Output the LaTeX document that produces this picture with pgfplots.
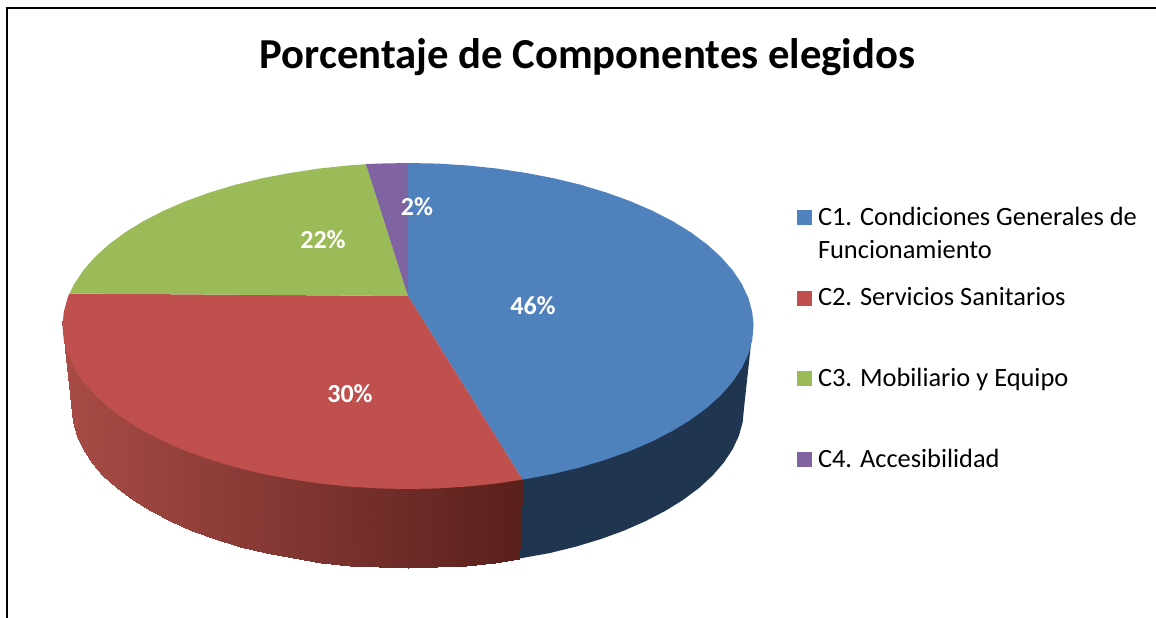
\documentclass[border=0pt]{standalone}
\usepackage{fontspec}
\setmainfont{Carlito}
\usepackage{pgfplots}
\pgfplotsset{compat=1.18}
\definecolor{cBlue}{HTML}{4F81BD}
\definecolor{cRed}{HTML}{C0504D}
\definecolor{cGreen}{HTML}{9BBB59}
\definecolor{cPurple}{HTML}{8064A2}
\definecolor{wallBlue}{HTML}{203550}
\begin{document}
\begin{tikzpicture}
\begin{axis}[
    x=1pt, y=1pt,
    xmin=0, xmax=1156, ymin=0, ymax=618,
    y dir=reverse,
    hide axis,
    colormap={redwall}{rgb255=(169,76,71) rgb255=(90,32,28)},
    point meta min=62, point meta max=520,
    legend cell align=left,
    legend image code/.code={\path[#1,draw=none] (0pt,-8pt) rectangle (15pt,7pt); \path (19pt,0pt);},
    legend style={
        at={(axis cs:797,205)}, anchor=north west,
        draw=none, fill=none, inner sep=0pt, outer sep=0pt,
        row sep=57pt,
        font=\fontsize{26.4}{33}\selectfont,
    },
]
\path (axis cs:0,0) rectangle (axis cs:1156,618);
% side wall, blue part
\addplot[fill=wallBlue, draw=none, forget plot] coordinates {
    (753.5,321) (752.2,335) (748.3,349) (741.7,363) (732.7,377) (721.1,390) (707.2,402)
    (691,414) (672.7,426) (652.3,436) (630.1,446) (606.2,454) (580.8,462) (554,469)
    (526.2,474) (522.5,474)
    (519.3,558.5) (550,553) (576,546.6) (600.7,539.1) (624,530.6) (645.6,521.1)
    (665.4,510.8) (683.2,499.8) (699,488) (712.5,475.6) (723.7,462.7) (732.5,449.4)
    (738.9,435.8) (742.7,422) (744,408)
} -- cycle;
% side wall, red part: four rows a quad, colour runs with x
\addplot[patch, patch type=rectangle, shader=interp, point meta=x, forget plot] table {
    x y
    522.5 474
    497.4 478
    495 562.5
    519.3 558.5
    497.4 478
    468 481
    466.3 565.6
    495 562.5
    468 481
    438.1 483
    437.3 567.4
    466.3 565.6
    438.1 483
    408 484
    408 568
    437.3 567.4
    408 484
    377.9 483
    378.7 567.4
    408 568
    377.9 483
    348 481
    349.7 565.6
    378.7 567.4
    348 481
    318.6 478
    321 562.5
    349.7 565.6
    318.6 478
    289.8 474
    293.1 558.4
    321 562.5
    289.8 474
    262 469
    266 553
    293.1 558.4
    262 469
    235.2 462
    240 546.6
    266 553
    235.2 462
    209.8 454
    215.3 539.1
    240 546.6
    209.8 454
    185.9 446
    192 530.6
    215.3 539.1
    185.9 446
    163.7 436
    170.4 521.1
    192 530.6
    163.7 436
    143.3 426
    150.6 510.8
    170.4 521.1
    143.3 426
    125 414
    132.8 499.8
    150.6 510.8
    125 414
    108.8 402
    117 488
    132.8 499.8
    108.8 402
    94.9 390
    103.5 475.6
    117 488
    94.9 390
    83.3 377
    92.3 462.7
    103.5 475.6
    83.3 377
    74.3 363
    83.5 449.4
    92.3 462.7
    74.3 363
    67.7 349
    77.1 435.8
    83.5 449.4
    67.7 349
    63.8 335
    73.3 422
    77.1 435.8
    63.8 335
    62.5 321
    72 408
    73.3 422
};
% top of the pie
\addplot[fill=cBlue, draw=none] coordinates {
    (408,296) (408,163) (438.1,163.6) (468,165.5) (497.4,168.6) (526.2,173) (554,178.3)
    (580.8,184.8) (606.2,192.5) (630.1,201.1) (652.3,210.7) (672.7,221.2) (691,232.5)
    (707.2,244.5) (721.1,257.1) (732.7,270.3) (741.7,283.8) (748.3,297.7) (752.2,311.8)
    (753.5,326) (752.2,340.2) (748.3,354.3) (741.7,368.2) (732.7,381.7) (721.1,394.9)
    (707.2,407.5) (691,419.5) (672.7,430.8) (652.3,441.3) (630.1,450.9) (606.2,459.5)
    (580.8,467.2) (554,473.7) (526.2,479) (522.5,479.5)
} -- cycle;
\addlegendentry{\parbox[t]{330pt}{C1. Condiciones Generales de\\Funcionamiento}}
\addplot[fill=cRed, draw=none] coordinates {
    (408,296) (522.5,479.5) (497.4,483.4) (468,486.5) (438.1,488.4) (408,489) (377.9,488.4)
    (348,486.5) (318.6,483.4) (289.8,479) (262,473.7) (235.2,467.2) (209.8,459.5)
    (185.9,450.9) (163.7,441.3) (143.3,430.8) (125,419.5) (108.8,407.5) (94.9,394.9)
    (83.3,381.7) (74.3,368.2) (67.7,354.3) (63.8,340.2) (62.5,326) (63.8,311.8)
    (67.7,297.7) (69.4,293.5)
} -- cycle;
\addlegendentry{C2. Servicios Sanitarios}
\addplot[fill=cGreen, draw=none] coordinates {
    (408,296) (69.4,293.5) (74.3,283.8) (83.3,270.3) (94.9,257.1) (108.8,244.5) (125,232.5)
    (143.3,221.2) (163.7,210.7) (185.9,201.1) (209.8,192.5) (235.2,184.8) (262,178.3)
    (289.8,173) (318.6,168.6) (348,165.5) (365.9,164.2)
} -- cycle;
\addlegendentry{C3. Mobiliario y Equipo}
\addplot[fill=cPurple, draw=none] coordinates {
    (408,296) (365.9,164.2) (377.9,163.6) (408,163)
} -- cycle;
\addlegendentry{C4. Accesibilidad}
% percentage labels
\addplot[draw=none, mark=none, forget plot, point meta=explicit,
    nodes near coords={\pgfmathprintnumber[assume math mode=true]{\pgfplotspointmeta}\%},
    every node near coord/.append style={anchor=center, inner sep=0pt, text=white,
        font=\fontsize{26}{30}\selectfont\bfseries}]
    table[meta=p] {
    x y p
    533 306 46
    350 394 30
    323 240 22
    417 207 2
};
% frame of the page
\addplot[black, line width=2pt, forget plot] coordinates {(7,618) (7,8) (1156,8)};
\node[font=\fontsize{42.7}{48}\selectfont\bfseries, anchor=base] at (axis cs:587.5,69) {Porcentaje de Componentes elegidos};
\end{axis}
\end{tikzpicture}
\end{document}
